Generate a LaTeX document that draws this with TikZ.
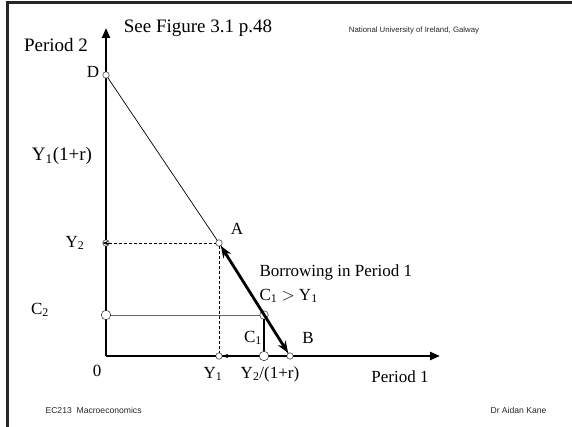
\documentclass[tikz,border=0pt]{standalone}
\usepackage{fontspec}
\setmainfont{Liberation Serif}
\setsansfont{Liberation Sans}
\usetikzlibrary{arrows.meta,positioning}

\begin{document}
\begin{tikzpicture}[x=1pt, y=-1pt,
  every node/.style={font=\fontsize{17}{19}\selectfont},
  bigtxt/.style={font=\fontsize{19}{21}\selectfont},
  smalltxt/.style={font=\sffamily\fontsize{8.6}{10}\selectfont, text=black!85},
  dot/.style={circle, draw, fill=white, inner sep=0pt, minimum size=6.5pt},
  bigdot/.style={dot, minimum size=9.5pt},
  axis/.style={line width=2.4pt, -{Triangle[length=10pt,width=8pt]}},
  >=Stealth
]
\useasboundingbox (0,0) rectangle (572,427);

% slide frame
\draw[line width=3pt, black!85] (7.5,427) -- (7.5,3) -- (572,3);

% axes
\coordinate (O) at (106,356);
\coordinate (ytop) at (106,28);
\coordinate (xtop) at (440,356);
\draw[axis] (O) -- (ytop);
\draw[axis] (O) -- (xtop);

% points
\node[dot] (D) at (106,75) {};
\node[dot] (A) at (219,243) {};
\node[bigdot, minimum size=8.5pt] (P) at (264,315) {};
\node[dot] (B) at (290,356) {};
\node[bigdot] (C2) at (106,315) {};
\node[bigdot] (C1) at (264,356) {};
\node[dot] (Y2) at (106,243) {};
\node[dot] (Y1) at (219,356) {};

% budget line
\draw[line width=0.7pt] (D) -- (A);
\draw[line width=0.7pt] (A) -- (P) -- (B);
\draw[line width=2.8pt, {Stealth[length=12pt,width=9pt]}-{Stealth[length=12pt,width=9pt]}] (A) -- (B);

% endowment and consumption
\draw[line width=0.6pt, dash pattern=on 3pt off 2pt] (Y2) -- (A) -- (Y1);
\draw[->, line width=0.6pt] ([xshift=5pt]Y1.east) -- (Y1.east);
\draw[->, line width=0.6pt] ([xshift=3pt]Y2.center) -- (Y2.west);
\draw[line width=1pt, black!60] (C2) -- (P);
\draw[line width=1.3pt] (P) -- (C1);

% labels
\node[bigtxt] (lp2) at (56,45) {Period 2};
\node[bigtxt] (lsee) at (198,28) {See Figure 3.1 p.48};
\node[smalltxt, font=\sffamily\fontsize{7.8}{9}\selectfont] (luni) at (414,30) {National University of Ireland, Galway};
\node (lD) at (93,72) {D};
\node[bigtxt] (lY1r) at (62,156) {Y\textsubscript{1}(1+r)};
\node (lY2) at (75,243) {Y\textsubscript{2}};
\node (lA) at (237,229) {A};
\node[anchor=west] (lborrow) at (256,272) {Borrowing in Period 1};
\node[anchor=west] (lineq) at (256,296) {C\textsubscript{1} $>$ Y\textsubscript{1}};
\node (lC2) at (40,310) {C\textsubscript{2}};
\node (lC1) at (253,338) {C\textsubscript{1}};
\node (lB) at (308,338) {B};
\node (l0) at (97,371) {0};
\node (lY1) at (213,374) {Y\textsubscript{1}};
\node (lY2r) at (270,374) {Y\textsubscript{2}/(1+r)};
\node (lp1) at (400,377) {Period 1};
\node[smalltxt, anchor=west] (lcourse) at (42,410) {EC213\ \ Macroeconomics};
\node[smalltxt, anchor=east] (lauthor) at (550,410) {Dr Aidan Kane};

\end{tikzpicture}
\end{document}
